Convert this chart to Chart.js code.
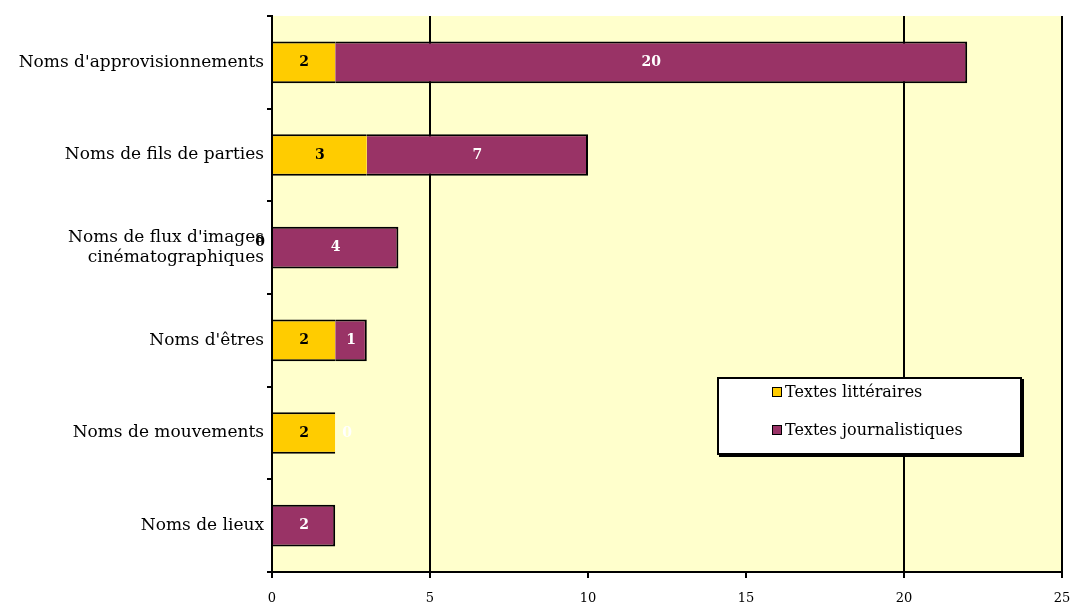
<script src="https://cdn.jsdelivr.net/npm/chart.js@4.4.7/dist/chart.umd.min.js"></script>

<style>
  body { margin: 0; background: #fff; }
  .wrap { position: relative; width: 1070px; height: 606px; }
  .legend {
    position: absolute; left: 717px; top: 377px; width: 301px; height: 74px;
    background: #fff; border: 2px solid #000; box-shadow: 2px 2px 0 #000;
    font-family: 'DejaVu Serif', serif; font-size: 16px; color: #000;
  }
  .legend div { position: absolute; left: 53px; }
  .legend span { display: inline-block; width: 8px; height: 8px; border: 1px solid #000; margin-right: 3px; }
</style>

<div class="wrap">
  <canvas id="chart" width="1070" height="606"></canvas>
  <div class="legend">
    <div style="top: 3px"><span style="background:#ffcc00"></span>Textes littéraires</div>
    <div style="top: 41px"><span style="background:#993366"></span>Textes journalistiques</div>
  </div>
</div>

<script>
  const categories = [
    "Noms d'approvisionnements",
    'Noms de fils de parties',
    ["Noms de flux d'images", 'cinématographiques'],
    "Noms d'êtres",
    'Noms de mouvements',
    'Noms de lieux'
  ]
  const litteraires = [2, 3, 0, 2, 2, null]
  const journalistiques = [20, 7, 4, 1, 0, 2]
  const xTicks = [0, 5, 10, 15, 20, 25]

  // yellow plot area
  const plotBg = {
    id: 'plotBg',
    beforeDraw(chart) {
      const a = chart.chartArea
      const ctx = chart.ctx
      ctx.save()
      ctx.fillStyle = '#ffffcc'
      ctx.fillRect(a.left, a.top, a.right - a.left, a.bottom - a.top)
      ctx.restore()
    }
  }

  // value labels in the middle of each segment
  const valueLabels = {
    id: 'valueLabels',
    afterDatasetsDraw(chart) {
      const ctx = chart.ctx
      ctx.save()
      ctx.font = 'bold 14px "DejaVu Serif", serif'
      ctx.textAlign = 'center'
      ctx.textBaseline = 'middle'
      chart.data.datasets.forEach((ds, di) => {
        const meta = chart.getDatasetMeta(di)
        meta.data.forEach((bar, i) => {
          const v = ds.data[i]
          if (v === null || v === undefined) return
          let x = (bar.x + bar.base) / 2
          if (v === 0) x += di === 0 ? -12 : 12
          ctx.fillStyle = di === 0 ? '#000' : '#fff'
          const y = v === 0 && di === 0 ? bar.y - 5 : bar.y
          ctx.fillText(String(v), x, y)
        })
      })
      ctx.restore()
    }
  }

  const blackAt = [5, 20, 25]

  new Chart(document.getElementById('chart'), {
    type: 'bar',
    data: {
      labels: categories,
      datasets: [
        {
          label: 'Textes littéraires',
          data: litteraires,
          backgroundColor: '#ffcc00',
          borderColor: '#000',
          borderWidth: { top: 2, bottom: 2, left: 0, right: 0 },
          borderSkipped: false,
          barPercentage: 0.45,
          categoryPercentage: 1
        },
        {
          label: 'Textes journalistiques',
          data: journalistiques,
          backgroundColor: '#993366',
          borderColor: '#000',
          borderWidth: { top: 2, bottom: 2, left: 0, right: 2 },
          borderSkipped: false,
          barPercentage: 0.45,
          categoryPercentage: 1
        }
      ]
    },
    options: {
      indexAxis: 'y',
      responsive: false,
      animation: false,
      layout: { padding: { top: 16, right: 8, left: 0, bottom: 0 } },
      plugins: {
        legend: { display: false },
        tooltip: { enabled: false }
      },
      scales: {
        x: {
          stacked: true,
          min: 0,
          max: 25,
          afterBuildTicks(axis) {
            axis.ticks = xTicks.map((v) => ({ value: v }))
          },
          border: { color: '#000', width: 2 },
          grid: {
            drawOnChartArea: true,
            tickLength: 6,
            color(ctx) {
              if (ctx.type !== 'tick') return 'transparent'
              return blackAt.includes(ctx.tick.value) ? '#000' : 'transparent'
            },
            tickColor: '#000',
            lineWidth: 2
          },
          ticks: {
            color: '#000',
            font: { family: 'DejaVu Serif', size: 13 },
            padding: 13
          },
          afterFit(axis) {
            axis.height = 34
            axis.paddingLeft = 0
            axis.paddingRight = 0
          }
        },
        y: {
          stacked: true,
          border: { color: '#000', width: 2 },
          grid: {
            drawOnChartArea: false,
            tickLength: 5,
            color: '#000',
            lineWidth: 2
          },
          ticks: {
            color: '#000',
            font: { family: 'DejaVu Serif', size: 17 },
            padding: 3
          },
          afterFit(axis) { axis.width = 272 }
        }
      }
    },
    plugins: [plotBg, valueLabels]
  })
</script>
